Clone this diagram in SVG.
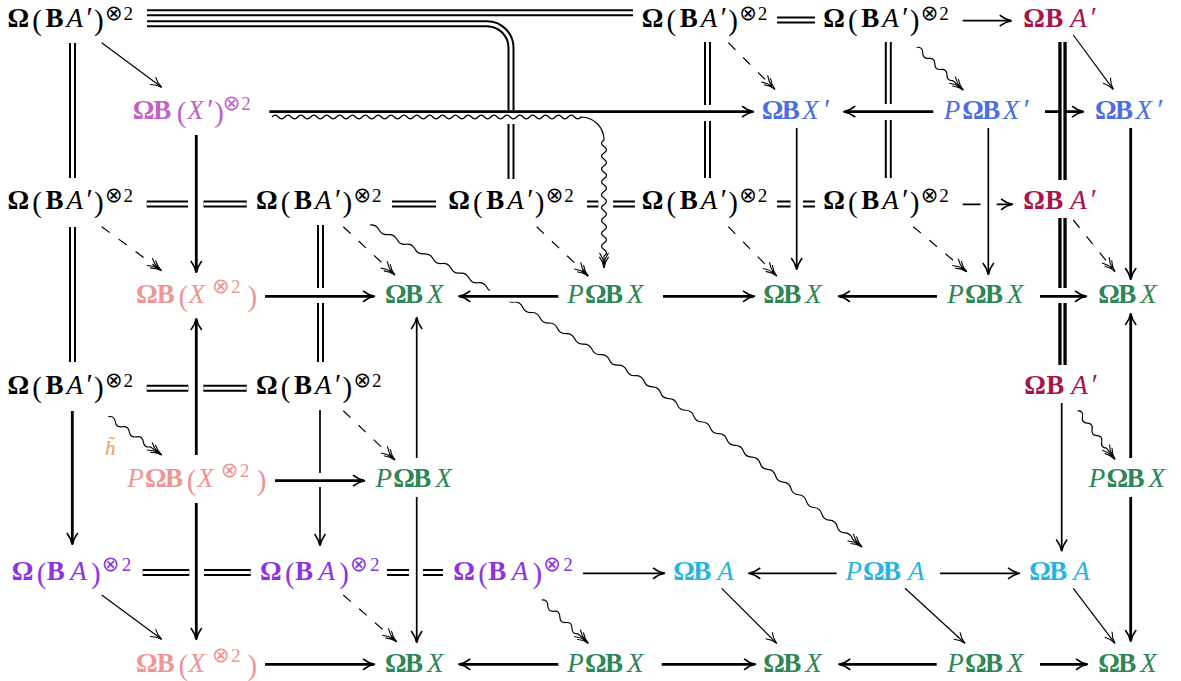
<svg xmlns="http://www.w3.org/2000/svg" width="1181" height="681" viewBox="0 0 1181 681">
<defs>
<style>
.t{font-family:"Liberation Serif","DejaVu Serif",serif;font-size:27px}
.b{font-weight:bold}
.i{font-style:italic}
.p{font-size:29px}
.s{font-size:19px}
.o{font-family:"DejaVu Sans",sans-serif;font-size:21px;font-weight:normal}
.q{font-size:29px}
.k{fill:#000}.cr{fill:#A8144A}.or{fill:#BF62C4}.bl{fill:#4B6EE0}.sa{fill:#EE9595}.gr{fill:#2E8555}.vi{fill:#8C34E4}.cy{fill:#2AB4DC}.og{fill:#E5A060}
.ln{fill:none;stroke:#000}
.th{stroke-width:2.8;marker-end:url(#a2)}
.md{stroke-width:1.7;marker-end:url(#a2)}
.tn{stroke-width:1.2;marker-end:url(#a1)}
.ds{stroke-width:1.2;stroke-dasharray:10 11;marker-end:url(#a3)}
.wv{stroke-width:1.2;marker-end:url(#a3)}
.dk{fill:none;stroke:#000;stroke-width:7}
.dw{fill:none;stroke:#fff;stroke-width:3}
.tk{fill:none;stroke:#000;stroke-width:8.4}
.tw{fill:none;stroke:#fff;stroke-width:1.8}
</style>
<marker id="a1" markerUnits="userSpaceOnUse" markerWidth="30" markerHeight="30" orient="auto" overflow="visible" refX="0" refY="0"><path d="M-11,-4.6 C-7,-1.6 -3,-0.4 0,0 C-3,0.4 -7,1.6 -11,4.6" fill="none" stroke="#000" stroke-width="1.1"/></marker>
<marker id="a2" markerUnits="userSpaceOnUse" markerWidth="30" markerHeight="30" orient="auto" overflow="visible" refX="0" refY="0"><path d="M-10.5,-5.5 C-6,-2 -1.5,-0.5 1.5,0 C-1.5,0.5 -6,2 -10.5,5.5" fill="none" stroke="#000" stroke-width="1.5"/></marker>
<marker id="a3" markerUnits="userSpaceOnUse" markerWidth="30" markerHeight="30" orient="auto" overflow="visible" refX="0" refY="0"><path d="M-11,-4.6 C-7,-1.6 -3,-0.4 0,0 C-3,0.4 -7,1.6 -11,4.6 M-15,-4.6 C-11,-1.6 -7,-0.4 -4,0 C-7,0.4 -11,1.6 -15,4.6" fill="none" stroke="#000" stroke-width="1.1" stroke-dasharray="none"/></marker>
</defs>
<rect width="1181" height="681" fill="#fff"/>
<g id="connectors">
<path class="ln wv" d="M370,225 q6.150,-0.681 9.001,4.811 t9.001,4.811 t9.001,4.811 t9.001,4.811 t9.001,4.811 t9.001,4.811 t9.001,4.811 t9.001,4.811 t9.001,4.811 t9.001,4.811 t9.001,4.811 t9.001,4.811 t9.001,4.811 t9.001,4.811 t9.001,4.811 t9.001,4.811 q6.151,-0.358 8.667,5.267 t8.667,5.267 t8.667,5.267 t8.667,5.267 t8.667,5.267 t8.667,5.267 t8.667,5.267 t8.667,5.267 t8.667,5.267 t8.667,5.267 t8.667,5.267 t8.667,5.267 t8.667,5.267 t8.667,5.267 t8.667,5.267 q2.123,5.787 8.286,5.857 t8.286,5.857 t8.286,5.857 t8.286,5.857 t8.286,5.857 t8.286,5.857 t8.286,5.857 t8.286,5.857 t8.286,5.857 t8.286,5.857 t8.286,5.857 t8.286,5.857 t8.286,5.857 t8.286,5.857 q1.635,5.881 7.719,6.357 t7.719,6.357 t7.719,6.357 t7.719,6.357 t7.719,6.357 t7.719,6.357 t7.719,6.357 t7.719,6.357 t7.719,6.357 t7.719,6.357 t7.719,6.357 t7.719,6.357 l9.371,7.717"/>
<path class="ln wv" d="M272,117 q3.219,-3.6 6.4375,0 t6.4375,0 t6.4375,0 t6.4375,0 t6.4375,0 t6.4375,0 t6.4375,0 t6.4375,0 t6.4375,0 t6.4375,0 t6.4375,0 t6.4375,0 t6.4375,0 t6.4375,0 t6.4375,0 t6.4375,0 t6.4375,0 t6.4375,0 t6.4375,0 t6.4375,0 t6.4375,0 t6.4375,0 t6.4375,0 t6.4375,0 t6.4375,0 t6.4375,0 t6.4375,0 t6.4375,0 t6.4375,0 t6.4375,0 t6.4375,0 t6.4375,0 t6.4375,0 t6.4375,0 t6.4375,0 t6.4375,0 t6.4375,0 t6.4375,0 t6.4375,0 t6.4375,0 t6.4375,0 t6.4375,0 t6.4375,0 t6.4375,0 t6.4375,0 t6.4375,0 t6.4375,0 t6.4375,0 A23,23 0 0 1 604,140 q-5,3.22 0,6.44 t0,6.44 t0,6.44 t0,6.44 t0,6.44 t0,6.44 t0,6.44 t0,6.44 t0,6.44 t0,6.44 t0,6.44 t0,6.44 t0,6.44 t0,6.44 t0,6.44 t0,6.44 t0,6.44 t0,6.44 l0,12"/>
<path class="ln wv" d="M916.7,47.3 q6.063,-0.547 6.045,5.539 t6.045,5.539 t6.045,5.539 t6.045,5.539 t6.045,5.539 t6.045,5.539 l10.33,9.47"/>
<path class="ln wv" d="M108.3,416.7 q6.125,-1.145 7.005,5.024 t7.005,5.024 t7.005,5.024 t7.005,5.024 t7.005,5.024 t7.005,5.024 l11.37,8.16"/>
<path class="ln wv" d="M1077.7,410.7 q5.968,0.384 4.796,6.249 t4.796,6.249 t4.796,6.249 t4.796,6.249 t4.796,6.249 t4.796,6.249 l8.52,11.11"/>
<path class="ln wv" d="M541.7,600 q6.092,-0.483 6.057,5.628 t6.057,5.628 t6.057,5.628 t6.057,5.628 t6.057,5.628 t6.057,5.628 l10.26,9.53"/>
<path class="ln th" d="M1045,111.7 H1082.5"/>
<g class="dk">
<path d="M147,12.8 H633"/>
<path d="M147,23.7 H487 A24,24 0 0 1 511,47.7 V110 M511,124 V179"/>
<path d="M777,20 H815"/>
<path d="M72.5,43 V178"/>
<path d="M72.5,227 V362"/>
<path d="M707.5,42 V105 M707.5,121 V178"/>
<path d="M888.3,42 V104 M888.3,120 V178"/>
<path d="M146.7,204 H188 M203.5,204 H246.7"/>
<path d="M392,204 H436"/>
<path d="M587,204 H598.3 M613,204 H635"/>
<path d="M777,204 H790.5 M803,204 H815"/>
<path d="M320.5,225 V288 M320.5,303 V362"/>
<path d="M146.7,388.3 H188.3 M203.3,388.3 H246.7"/>
<path d="M142.7,572.5 H189.3 M204,572.5 H250.7"/>
<path d="M387,572.5 H409 M423,572.5 H443"/>
</g>
<g class="dw">
<path d="M147,12.8 H633"/>
<path d="M147,23.7 H487 A24,24 0 0 1 511,47.7 V110 M511,124 V179"/>
<path d="M777,20 H815"/>
<path d="M72.5,43 V178"/>
<path d="M72.5,227 V362"/>
<path d="M707.5,42 V105 M707.5,121 V178"/>
<path d="M888.3,42 V104 M888.3,120 V178"/>
<path d="M146.7,204 H188 M203.5,204 H246.7"/>
<path d="M392,204 H436"/>
<path d="M587,204 H598.3 M613,204 H635"/>
<path d="M777,204 H790.5 M803,204 H815"/>
<path d="M320.5,225 V288 M320.5,303 V362"/>
<path d="M146.7,388.3 H188.3 M203.3,388.3 H246.7"/>
<path d="M142.7,572.5 H189.3 M204,572.5 H250.7"/>
<path d="M387,572.5 H409 M423,572.5 H443"/>
</g>
<g class="tk">
<path d="M1062.5,42 V180"/>
<path d="M1062.5,218 V288 M1062.5,303 V365"/>
</g>
<g class="tw">
<path d="M1062.5,42 V180"/>
<path d="M1062.5,218 V288 M1062.5,303 V365"/>
</g>
<path class="ln th" d="M269.3,111.7 H752.5"/>
<path class="ln th" d="M933.3,111.7 H844.8"/>
<path class="ln th" d="M265,296.3 H373.5"/>
<path d="M460,296.3 H556" fill="none" stroke="#fff" stroke-width="11"/>
<path class="ln th" d="M558.3,296.3 H459.8"/>
<path class="ln th" d="M663,296.3 H753.5"/>
<path class="ln th" d="M937,296.3 H839.5"/>
<path class="ln th" d="M1040,296.3 H1085.5"/>
<path class="ln th" d="M275,480.7 H363.5"/>
<path class="ln th" d="M265,664.3 H373.5"/>
<path class="ln th" d="M558.3,664.3 H459.8"/>
<path class="ln th" d="M661.7,664.3 H754.5"/>
<path class="ln th" d="M936.7,664.3 H839.8"/>
<path class="ln th" d="M1040,664.3 H1086.5"/>
<path class="ln th" d="M72.3,411 V543.5"/>
<path class="ln th" d="M196.3,135 V271.5"/>
<path class="ln th" d="M196.3,455 V319.5"/>
<path class="ln th" d="M196.3,503 V638.5"/>
<path class="ln th" d="M1130.7,128 V278.5"/>
<path class="ln th" d="M1130.7,458 V314.5"/>
<path class="ln th" d="M1130.7,497 V640.5"/>
<path class="ln md" d="M962.7,20.7 H1010.2"/>
<path class="ln md" d="M962.7,204.3 H980.5 M996.7,204.3 H1011.5"/>
<path class="ln md" d="M583,573.3 H663.5"/>
<path class="ln md" d="M836.7,573.3 H749.8"/>
<path class="ln md" d="M940,573.3 H1018.5"/>
<path class="ln md" d="M320,410 V473 M320,487 V544.5"/>
<path class="ln md" d="M416.7,458 V318.5"/>
<path class="ln md" d="M416.7,497 V641.5"/>
<path class="ln md" d="M796.7,128 V268.5"/>
<path class="ln md" d="M988.3,128 V273.5"/>
<path class="ln md" d="M1061.7,403 V550"/>
<path class="ln tn" d="M101.7,42.7 L161.7,87.3"/>
<path class="ln tn" d="M1073.3,35 L1113.3,89.3"/>
<path class="ln tn" d="M101.7,595 L161.7,639.3"/>
<path class="ln tn" d="M721.7,588.3 L776.7,643.3"/>
<path class="ln tn" d="M905,588.3 L965,643.3"/>
<path class="ln tn" d="M1073.3,588.3 L1115,643.3"/>
<path class="ln ds" d="M728.3,42.7 L775,89.3"/>
<path class="ln ds" d="M101.7,226.7 L161.7,270.7"/>
<path class="ln ds" d="M343.3,226.7 L395,275"/>
<path class="ln ds" d="M536.7,226.7 L588.3,276"/>
<path class="ln ds" d="M728.3,226.7 L776.7,276"/>
<path class="ln ds" d="M913.3,226.7 L966.7,271.7"/>
<path class="ln ds" d="M1073.3,220 L1115,271.7"/>
<path class="ln ds" d="M343.3,410.7 L395,460"/>
<path class="ln ds" d="M343.3,595 L396.7,641.7"/>
</g>
<g id="label-h"><text class="t i og" x="105" y="455" style="font-size:21px">h̃</text></g>
<g id="n1" transform="translate(7.5,26.5)"><text class="t k"><tspan class="b" x="0" y="0">Ω</tspan><tspan class="p" x="24.8" y="3">(</tspan><tspan class="b" x="38" y="0">B</tspan><tspan class="i" x="59" y="0">A</tspan><tspan class="q" x="79" y="0">′</tspan><tspan class="p" x="86.5" y="3">)</tspan><tspan class="o" x="97.5" y="-6.5">⊗</tspan><tspan class="s" x="116" y="-6.5">2</tspan></text></g>
<g id="n2" transform="translate(641.7,26.5)"><text class="t k"><tspan class="b" x="0" y="0">Ω</tspan><tspan class="p" x="24.8" y="3">(</tspan><tspan class="b" x="38" y="0">B</tspan><tspan class="i" x="59" y="0">A</tspan><tspan class="q" x="79" y="0">′</tspan><tspan class="p" x="86.5" y="3">)</tspan><tspan class="o" x="97.5" y="-6.5">⊗</tspan><tspan class="s" x="116" y="-6.5">2</tspan></text></g>
<g id="n3" transform="translate(823.3,26.5)"><text class="t k"><tspan class="b" x="0" y="0">Ω</tspan><tspan class="p" x="24.8" y="3">(</tspan><tspan class="b" x="38" y="0">B</tspan><tspan class="i" x="59" y="0">A</tspan><tspan class="q" x="79" y="0">′</tspan><tspan class="p" x="86.5" y="3">)</tspan><tspan class="o" x="97.5" y="-6.5">⊗</tspan><tspan class="s" x="116" y="-6.5">2</tspan></text></g>
<g id="n4" transform="translate(1023.3,26.5)"><text class="t cr"><tspan class="b" x="0" y="0">Ω</tspan><tspan class="b" x="22" y="0">B</tspan><tspan class="i" x="47" y="0">A</tspan><tspan class="q" x="67.5" y="0">′</tspan></text></g>
<g id="n5" transform="translate(132.7,119)"><text class="t or"><tspan class="b" x="0" y="0">Ω</tspan><tspan class="b" x="20.5" y="0">B</tspan><tspan class="p" x="44" y="3">(</tspan><tspan class="i" x="54.5" y="0">X</tspan><tspan class="q" x="74.5" y="0">′</tspan><tspan class="p" x="81.5" y="3">)</tspan><tspan class="o" x="90" y="-9">⊗</tspan><tspan class="s" x="108.5" y="-9">2</tspan></text></g>
<g id="n6" transform="translate(761.7,119)"><text class="t bl"><tspan class="b" x="0" y="0">Ω</tspan><tspan class="b" x="20" y="0">B</tspan><tspan class="i" x="40.5" y="0">X</tspan><tspan class="q" x="62.5" y="0">′</tspan></text></g>
<g id="n7" transform="translate(943.3,119)"><text class="t bl"><tspan class="i" x="0.5" y="0">P</tspan><tspan class="b" x="19" y="0">Ω</tspan><tspan class="b" x="39" y="0">B</tspan><tspan class="i" x="59.5" y="0">X</tspan><tspan class="q" x="80.5" y="0">′</tspan></text></g>
<g id="n8" transform="translate(1095,119)"><text class="t bl"><tspan class="b" x="0" y="0">Ω</tspan><tspan class="b" x="20" y="0">B</tspan><tspan class="i" x="40.5" y="0">X</tspan><tspan class="q" x="62.5" y="0">′</tspan></text></g>
<g id="n9" transform="translate(7.5,209)"><text class="t k"><tspan class="b" x="0" y="0">Ω</tspan><tspan class="p" x="24.8" y="3">(</tspan><tspan class="b" x="38" y="0">B</tspan><tspan class="i" x="59" y="0">A</tspan><tspan class="q" x="79" y="0">′</tspan><tspan class="p" x="86.5" y="3">)</tspan><tspan class="o" x="97.5" y="-7">⊗</tspan><tspan class="s" x="116" y="-7">2</tspan></text></g>
<g id="n10" transform="translate(256,209)"><text class="t k"><tspan class="b" x="0" y="0">Ω</tspan><tspan class="p" x="24.8" y="3">(</tspan><tspan class="b" x="38" y="0">B</tspan><tspan class="i" x="59" y="0">A</tspan><tspan class="q" x="79" y="0">′</tspan><tspan class="p" x="86.5" y="3">)</tspan><tspan class="o" x="97.5" y="-7">⊗</tspan><tspan class="s" x="116" y="-7">2</tspan></text></g>
<g id="n11" transform="translate(448.3,209)"><text class="t k"><tspan class="b" x="0" y="0">Ω</tspan><tspan class="p" x="24.8" y="3">(</tspan><tspan class="b" x="38" y="0">B</tspan><tspan class="i" x="59" y="0">A</tspan><tspan class="q" x="79" y="0">′</tspan><tspan class="p" x="86.5" y="3">)</tspan><tspan class="o" x="97.5" y="-7">⊗</tspan><tspan class="s" x="116" y="-7">2</tspan></text></g>
<g id="n12" transform="translate(641.7,209)"><text class="t k"><tspan class="b" x="0" y="0">Ω</tspan><tspan class="p" x="24.8" y="3">(</tspan><tspan class="b" x="38" y="0">B</tspan><tspan class="i" x="59" y="0">A</tspan><tspan class="q" x="79" y="0">′</tspan><tspan class="p" x="86.5" y="3">)</tspan><tspan class="o" x="97.5" y="-7">⊗</tspan><tspan class="s" x="116" y="-7">2</tspan></text></g>
<g id="n13" transform="translate(823.3,209)"><text class="t k"><tspan class="b" x="0" y="0">Ω</tspan><tspan class="p" x="24.8" y="3">(</tspan><tspan class="b" x="38" y="0">B</tspan><tspan class="i" x="59" y="0">A</tspan><tspan class="q" x="79" y="0">′</tspan><tspan class="p" x="86.5" y="3">)</tspan><tspan class="o" x="97.5" y="-7">⊗</tspan><tspan class="s" x="116" y="-7">2</tspan></text></g>
<g id="n14" transform="translate(1023.3,209)"><text class="t cr"><tspan class="b" x="0" y="0">Ω</tspan><tspan class="b" x="22" y="0">B</tspan><tspan class="i" x="47" y="0">A</tspan><tspan class="q" x="67.5" y="0">′</tspan></text></g>
<g id="n15" transform="translate(136,303)"><text class="t sa"><tspan class="b" x="0" y="0">Ω</tspan><tspan class="b" x="20.7" y="0">B</tspan><tspan class="p" x="42.6" y="3">(</tspan><tspan class="i" x="52.5" y="0">X</tspan><tspan class="o" x="76" y="-10">⊗</tspan><tspan class="s" x="95" y="-10">2</tspan><tspan class="p" x="111.5" y="3">)</tspan></text></g>
<g id="n16" transform="translate(385,303)"><text class="t gr"><tspan class="b" x="0" y="0">Ω</tspan><tspan class="b" x="20" y="0">B</tspan><tspan class="i" x="42" y="0">X</tspan></text></g>
<g id="n17" transform="translate(566.7,303)"><text class="t gr"><tspan class="i" x="0.5" y="0">P</tspan><tspan class="b" x="18.3" y="0">Ω</tspan><tspan class="b" x="38.3" y="0">B</tspan><tspan class="i" x="60.3" y="0">X</tspan></text></g>
<g id="n18" transform="translate(763.3,303)"><text class="t gr"><tspan class="b" x="0" y="0">Ω</tspan><tspan class="b" x="20" y="0">B</tspan><tspan class="i" x="42" y="0">X</tspan></text></g>
<g id="n19" transform="translate(946.7,303)"><text class="t gr"><tspan class="i" x="0.5" y="0">P</tspan><tspan class="b" x="18.3" y="0">Ω</tspan><tspan class="b" x="38.3" y="0">B</tspan><tspan class="i" x="60.3" y="0">X</tspan></text></g>
<g id="n20" transform="translate(1098.3,303)"><text class="t gr"><tspan class="b" x="0" y="0">Ω</tspan><tspan class="b" x="20" y="0">B</tspan><tspan class="i" x="42" y="0">X</tspan></text></g>
<g id="n21" transform="translate(7.5,394)"><text class="t k"><tspan class="b" x="0" y="0">Ω</tspan><tspan class="p" x="24.8" y="3">(</tspan><tspan class="b" x="38" y="0">B</tspan><tspan class="i" x="59" y="0">A</tspan><tspan class="q" x="79" y="0">′</tspan><tspan class="p" x="86.5" y="3">)</tspan><tspan class="o" x="97.5" y="-7">⊗</tspan><tspan class="s" x="116" y="-7">2</tspan></text></g>
<g id="n22" transform="translate(256,394)"><text class="t k"><tspan class="b" x="0" y="0">Ω</tspan><tspan class="p" x="24.8" y="3">(</tspan><tspan class="b" x="38" y="0">B</tspan><tspan class="i" x="59" y="0">A</tspan><tspan class="q" x="79" y="0">′</tspan><tspan class="p" x="86.5" y="3">)</tspan><tspan class="o" x="97.5" y="-7">⊗</tspan><tspan class="s" x="116" y="-7">2</tspan></text></g>
<g id="n23" transform="translate(1024.3,394)"><text class="t cr"><tspan class="b" x="0" y="0">Ω</tspan><tspan class="b" x="22" y="0">B</tspan><tspan class="i" x="47" y="0">A</tspan><tspan class="q" x="67.5" y="0">′</tspan></text></g>
<g id="n24" transform="translate(126.7,487)"><text class="t sa"><tspan class="i" x="0.5" y="0">P</tspan><tspan class="b" x="18.3" y="0">Ω</tspan><tspan class="b" x="38.3" y="0">B</tspan><tspan class="p" x="60" y="3">(</tspan><tspan class="i" x="70.5" y="0">X</tspan><tspan class="o" x="94" y="-10">⊗</tspan><tspan class="s" x="113" y="-10">2</tspan><tspan class="p" x="130" y="3">)</tspan></text></g>
<g id="n25" transform="translate(375,487)"><text class="t gr"><tspan class="i" x="0.5" y="0">P</tspan><tspan class="b" x="18.3" y="0">Ω</tspan><tspan class="b" x="38.3" y="0">B</tspan><tspan class="i" x="60.3" y="0">X</tspan></text></g>
<g id="n26" transform="translate(1088.3,487)"><text class="t gr"><tspan class="i" x="0.5" y="0">P</tspan><tspan class="b" x="18.3" y="0">Ω</tspan><tspan class="b" x="38.3" y="0">B</tspan><tspan class="i" x="60.3" y="0">X</tspan></text></g>
<g id="n27" transform="translate(11.7,580)"><text class="t vi"><tspan class="b" x="0" y="0">Ω</tspan><tspan class="p" x="25" y="3">(</tspan><tspan class="b" x="35" y="0">B</tspan><tspan class="i" x="58.5" y="0">A</tspan><tspan class="p" x="79.3" y="3">)</tspan><tspan class="o" x="90" y="-9">⊗</tspan><tspan class="s" x="110" y="-9">2</tspan></text></g>
<g id="n28" transform="translate(260,580)"><text class="t vi"><tspan class="b" x="0" y="0">Ω</tspan><tspan class="p" x="25" y="3">(</tspan><tspan class="b" x="35" y="0">B</tspan><tspan class="i" x="58.5" y="0">A</tspan><tspan class="p" x="79.3" y="3">)</tspan><tspan class="o" x="90" y="-9">⊗</tspan><tspan class="s" x="110" y="-9">2</tspan></text></g>
<g id="n29" transform="translate(453.3,580)"><text class="t vi"><tspan class="b" x="0" y="0">Ω</tspan><tspan class="p" x="25" y="3">(</tspan><tspan class="b" x="35" y="0">B</tspan><tspan class="i" x="58.5" y="0">A</tspan><tspan class="p" x="79.3" y="3">)</tspan><tspan class="o" x="90" y="-9">⊗</tspan><tspan class="s" x="110" y="-9">2</tspan></text></g>
<g id="n30" transform="translate(673.3,580)"><text class="t cy"><tspan class="b" x="0" y="0">Ω</tspan><tspan class="b" x="20" y="0">B</tspan><tspan class="i" x="44" y="0">A</tspan></text></g>
<g id="n31" transform="translate(845,580)"><text class="t cy"><tspan class="i" x="0.5" y="0">P</tspan><tspan class="b" x="18" y="0">Ω</tspan><tspan class="b" x="38" y="0">B</tspan><tspan class="i" x="63" y="0">A</tspan></text></g>
<g id="n32" transform="translate(1029.3,580)"><text class="t cy"><tspan class="b" x="0" y="0">Ω</tspan><tspan class="b" x="20" y="0">B</tspan><tspan class="i" x="44" y="0">A</tspan></text></g>
<g id="n33" transform="translate(136,672)"><text class="t sa"><tspan class="b" x="0" y="0">Ω</tspan><tspan class="b" x="20.7" y="0">B</tspan><tspan class="p" x="42.6" y="3">(</tspan><tspan class="i" x="52.5" y="0">X</tspan><tspan class="o" x="76" y="-10">⊗</tspan><tspan class="s" x="95" y="-10">2</tspan><tspan class="p" x="111.5" y="3">)</tspan></text></g>
<g id="n34" transform="translate(385,672)"><text class="t gr"><tspan class="b" x="0" y="0">Ω</tspan><tspan class="b" x="20" y="0">B</tspan><tspan class="i" x="42" y="0">X</tspan></text></g>
<g id="n35" transform="translate(566.7,672)"><text class="t gr"><tspan class="i" x="0.5" y="0">P</tspan><tspan class="b" x="18.3" y="0">Ω</tspan><tspan class="b" x="38.3" y="0">B</tspan><tspan class="i" x="60.3" y="0">X</tspan></text></g>
<g id="n36" transform="translate(763.3,672)"><text class="t gr"><tspan class="b" x="0" y="0">Ω</tspan><tspan class="b" x="20" y="0">B</tspan><tspan class="i" x="42" y="0">X</tspan></text></g>
<g id="n37" transform="translate(946.7,672)"><text class="t gr"><tspan class="i" x="0.5" y="0">P</tspan><tspan class="b" x="18.3" y="0">Ω</tspan><tspan class="b" x="38.3" y="0">B</tspan><tspan class="i" x="60.3" y="0">X</tspan></text></g>
<g id="n38" transform="translate(1098.3,672)"><text class="t gr"><tspan class="b" x="0" y="0">Ω</tspan><tspan class="b" x="20" y="0">B</tspan><tspan class="i" x="42" y="0">X</tspan></text></g>
</svg>
